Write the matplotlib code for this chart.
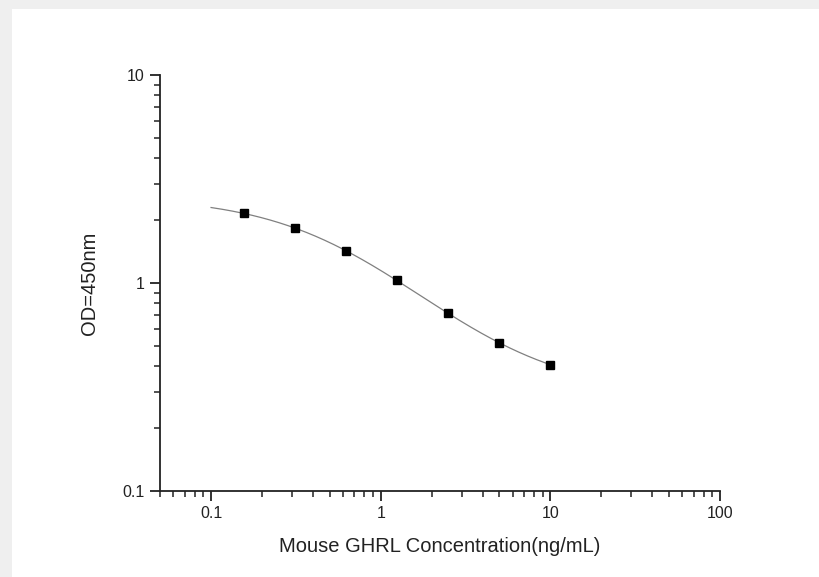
import numpy as np
import matplotlib
matplotlib.use("Agg")
import matplotlib.pyplot as plt
from matplotlib.ticker import LogLocator, NullFormatter, FixedLocator, FixedFormatter

conc = [0.156, 0.3125, 0.625, 1.25, 2.5, 5.0, 10.0]
od = [2.16, 1.84, 1.42, 1.03, 0.715, 0.515, 0.405]

xticks = [0.1, 1, 10, 100]
xticklabels = ["0.1", "1", "10", "100"]
yticks = [0.1, 1, 10]
yticklabels = ["0.1", "1", "10"]

# 4-parameter logistic fit via grid search over asymptotes + linear regression
x = np.array(conc)
y = np.array(od)
best = None
for A in np.linspace(2.2, 3.5, 131):
    for D in np.linspace(0.0, 0.39, 79):
        t = (A - D) / (y - D) - 1
        if np.any(t <= 0):
            continue
        lx = np.log(x)
        lt = np.log(t)
        B, c0 = np.polyfit(lx, lt, 1)
        C = np.exp(-c0 / B)
        pred = D + (A - D) / (1 + (x / C) ** B)
        err = np.sum((np.log(pred) - np.log(y)) ** 2)
        if best is None or err < best[0]:
            best = (err, A, B, C, D)
_, A, B, C, D = best
xf = np.logspace(-1, 1, 300)
yf = D + (A - D) / (1 + (xf / C) ** B)

fig = plt.figure(figsize=(8.19, 5.77), dpi=100)
fig.patch.set_facecolor("#EFEFEF")
fig.add_artist(plt.Rectangle((12 / 819, 0), 1, 1 - 9 / 577, transform=fig.transFigure,
                             facecolor="white", edgecolor="none", zorder=0))
plt.rcParams['font.family'] = ['Liberation Sans', 'DejaVu Sans']

ax = fig.add_axes([160 / 819, 1 - 491 / 577, 560 / 819, 416 / 577])
ax.set_facecolor("white")
ax.set_xscale("log")
ax.set_yscale("log")
ax.set_xlim(0.05, 100)
ax.set_ylim(0.1, 10)

ax.plot(xf, yf, color="#808080", lw=0.9, zorder=2)
ax.plot(conc, od, linestyle="none", marker="s", markersize=5.5, color="black", zorder=3)

for s in ["top", "right"]:
    ax.spines[s].set_visible(False)
for s in ["left", "bottom"]:
    ax.spines[s].set_linewidth(1.3)
    ax.spines[s].set_color("#222222")

ax.xaxis.set_major_locator(FixedLocator(xticks))
ax.xaxis.set_major_formatter(FixedFormatter(xticklabels))
ax.yaxis.set_major_locator(FixedLocator(yticks))
ax.yaxis.set_major_formatter(FixedFormatter(yticklabels))
ax.xaxis.set_minor_locator(LogLocator(base=10, subs=np.arange(2, 10), numticks=20))
ax.yaxis.set_minor_locator(LogLocator(base=10, subs=np.arange(2, 10), numticks=20))
ax.xaxis.set_minor_formatter(NullFormatter())
ax.yaxis.set_minor_formatter(NullFormatter())
ax.tick_params(which="major", direction="out", length=7, width=1.3, color="#222222",
               labelsize=11.5, labelcolor="#222222", pad=4)
ax.tick_params(which="minor", direction="out", length=4, width=1.1, color="#222222")

ax.set_xlabel("Mouse GHRL Concentration(ng/mL)", fontsize=14.5, color="#222222", labelpad=11)
ax.set_ylabel("OD=450nm", fontsize=14.5, color="#222222", labelpad=17)

fig.savefig("out.png", dpi=100, facecolor=fig.get_facecolor())
